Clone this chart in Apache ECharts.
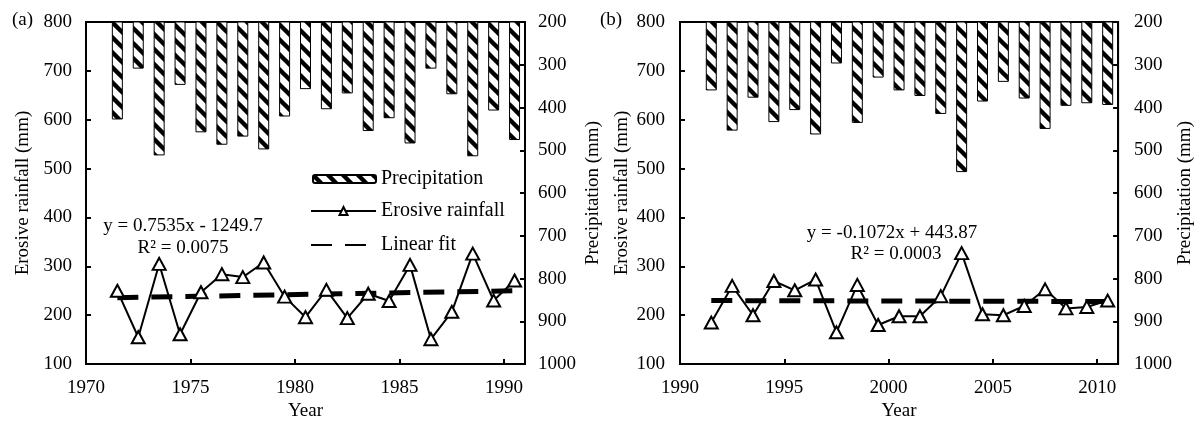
<!DOCTYPE html>
<html>
<head>
<meta charset="utf-8">
<script src="https://cdn.jsdelivr.net/npm/echarts@6/dist/echarts.min.js"></script>
<style>
  html, body { margin: 0; padding: 0; background: #fff; }
  #chart { width: 1196px; height: 426px; }
</style>
</head>
<body>
<div id="chart"></div>
<script>
// panel (a) 1971-1990
const yearsA = [1971,1972,1973,1974,1975,1976,1977,1978,1979,1980,1981,1982,1983,1984,1985,1986,1987,1988,1989,1990]
const precipA = [428,309,512,347,458,487,468,498,421,357,404,367,455,425,484,309,369,514,407,476]
const erosiveA = [250,155,305,161,247,284,278,308,238,196,252,194,244,229,303,151,207,326,230,271]
const fitA = [236,250]

// panel (b) 1991-2010
const yearsB = [1991,1992,1993,1994,1995,1996,1997,1998,1999,2000,2001,2002,2003,2004,2005,2006,2007,2008,2009,2010]
const precipB = [360,454,377,434,406,463,297,436,330,360,373,415,551,386,340,379,450,396,390,394]
const erosiveB = [185,260,200,270,251,273,165,262,180,198,198,239,327,202,200,219,253,214,217,230]
const fitB = [230,228]

const FONT = 'Liberation Serif'
const OFFSET = 0.5 // points sit mid-year in the original

// hatch pattern for precipitation bars
function hatch() {
    let c = document.createElement('canvas')
    let s = 15
    c.width = s; c.height = s
    let ctx = c.getContext('2d')
    ctx.fillStyle = '#fff'
    ctx.fillRect(0, 0, s, s)
    ctx.strokeStyle = '#000'
    ctx.lineWidth = 4.4
    ctx.beginPath()
    for (let k = -1; k <= 1; k++) {
        ctx.moveTo(k * s - 2, -2)
        ctx.lineTo(k * s + s + 2, s + 2)
    }
    ctx.stroke()
    return c
}
const pattern = { image: hatch(), repeat: 'repeat' }
const plain = v => String(v)

function xAxis(idx, min, max) {
    return {
        gridIndex: idx, type: 'value', min: min, max: max, interval: 5,
        name: 'Year', nameLocation: 'middle', nameGap: 31,
        nameTextStyle: { fontFamily: FONT, fontSize: 19, color: '#000' },
        axisLine: { lineStyle: { color: '#000', width: 2 } },
        axisTick: { inside: true, length: 5, lineStyle: { color: '#000', width: 2 } },
        axisLabel: { fontFamily: FONT, fontSize: 19, color: '#000', margin: 14, formatter: plain },
        splitLine: { show: false }
    }
}
function leftAxis(idx, gap, margin) {
    return {
        gridIndex: idx, type: 'value', min: 100, max: 800, interval: 100,
        name: 'Erosive rainfall (mm)', nameLocation: 'middle', nameGap: gap, nameRotate: 90,
        nameTextStyle: { fontFamily: FONT, fontSize: 19, color: '#000' },
        axisLine: { show: true, lineStyle: { color: '#000', width: 2 } },
        axisTick: { show: true, inside: true, length: 5, lineStyle: { color: '#000', width: 2 } },
        axisLabel: { fontFamily: FONT, fontSize: 19, color: '#000', margin: margin, formatter: plain },
        splitLine: { show: false }
    }
}
function rightAxis(idx, gap, margin) {
    return {
        gridIndex: idx, type: 'value', min: 200, max: 1000, interval: 100, inverse: true,
        position: 'right',
        name: 'Precipitation (mm)', nameLocation: 'middle', nameGap: gap, nameRotate: 90,
        nameTextStyle: { fontFamily: FONT, fontSize: 19, color: '#000' },
        axisLine: { show: true, lineStyle: { color: '#000', width: 2 } },
        axisTick: { show: true, inside: true, length: 5, lineStyle: { color: '#000', width: 2 } },
        axisLabel: { fontFamily: FONT, fontSize: 19, color: '#000', margin: margin, formatter: plain },
        splitLine: { show: false }
    }
}

function seriesFor(idx, years, precip, erosive, fit) {
    let xi = idx, yl = idx * 2, yr = idx * 2 + 1
    return [
        {
            name: 'Precipitation', type: 'bar', xAxisIndex: xi, yAxisIndex: yr,
            barWidth: 11,
            itemStyle: { color: pattern, borderColor: '#000', borderWidth: 1 },
            data: years.map((y, i) => [y + OFFSET, precip[i]]),
            z: 2
        },
        {
            name: 'Linear fit', type: 'line', xAxisIndex: xi, yAxisIndex: yl,
            symbol: 'none',
            lineStyle: { color: '#000', width: 5, type: [21, 13], cap: 'butt' },
            itemStyle: { color: '#000' },
            data: [[years[0] + OFFSET, fit[0]], [years[years.length - 1] + OFFSET, fit[1]]],
            z: 3
        },
        {
            name: 'Erosive rainfall', type: 'line', xAxisIndex: xi, yAxisIndex: yl,
            symbol: 'triangle', symbolSize: [13, 12], showAllSymbol: true,
            lineStyle: { color: '#000', width: 2 },
            itemStyle: { color: '#fff', borderColor: '#000', borderWidth: 2 },
            data: years.map((y, i) => [y + OFFSET, erosive[i]]),
            z: 4
        }
    ]
}

const legendText = { fontFamily: FONT, fontSize: 20, color: '#000' }
let myChart = echarts.init(document.getElementById('chart'))
let option = {
    animation: false,
    backgroundColor: '#fff',
    grid: [
        { left: 86, top: 22, width: 439, height: 354, show: true, borderColor: '#000', borderWidth: 2 },
        { left: 680, top: 22, width: 446, height: 356, show: true, borderColor: '#000', borderWidth: 2 }
    ],
    xAxis: [xAxis(0, 1970, 1991), xAxis(1, 1990, 2011)],
    yAxis: [leftAxis(0, 53, 14), rightAxis(0, 59, 13), leftAxis(1, 48, 15), rightAxis(1, 55, 16)],
    legend: [
        { left: 307, top: 164, itemWidth: 63, itemHeight: 8, data: ['Precipitation'], textStyle: legendText, selectedMode: false },
        { left: 305, top: 196, itemWidth: 65, itemHeight: 10, data: ['Erosive rainfall'], textStyle: legendText, selectedMode: false },
        {
            left: 305, top: 230, itemWidth: 65, itemHeight: 10, data: ['Linear fit'], textStyle: legendText, selectedMode: false,
            itemStyle: { color: 'rgba(0,0,0,0)', borderWidth: 0 }
        }
    ],
    graphic: [
        { type: 'text', left: 12, top: 11, style: { text: '(a)', font: '19px ' + FONT, fill: '#000' } },
        { type: 'text', left: 600, top: 11, style: { text: '(b)', font: '19px ' + FONT, fill: '#000' } },
        { type: 'text', x: 183, y: 226, style: { text: 'y = 0.7535x - 1249.7', font: '19px ' + FONT, fill: '#000', align: 'center', verticalAlign: 'middle' } },
        { type: 'text', x: 183, y: 248, style: { text: 'R² = 0.0075', font: '19px ' + FONT, fill: '#000', align: 'center', verticalAlign: 'middle' } },
        { type: 'text', x: 892, y: 233, style: { text: 'y = -0.1072x + 443.87', font: '19px ' + FONT, fill: '#000', align: 'center', verticalAlign: 'middle' } },
        { type: 'text', x: 896, y: 254, style: { text: 'R² = 0.0003', font: '19px ' + FONT, fill: '#000', align: 'center', verticalAlign: 'middle' } }
    ],
    series: [].concat(
        seriesFor(0, yearsA, precipA, erosiveA, fitA),
        seriesFor(1, yearsB, precipB, erosiveB, fitB)
    )
}
myChart.setOption(option)
window.addEventListener('resize', function () {
    myChart.resize()
})
</script>
</body>
</html>
